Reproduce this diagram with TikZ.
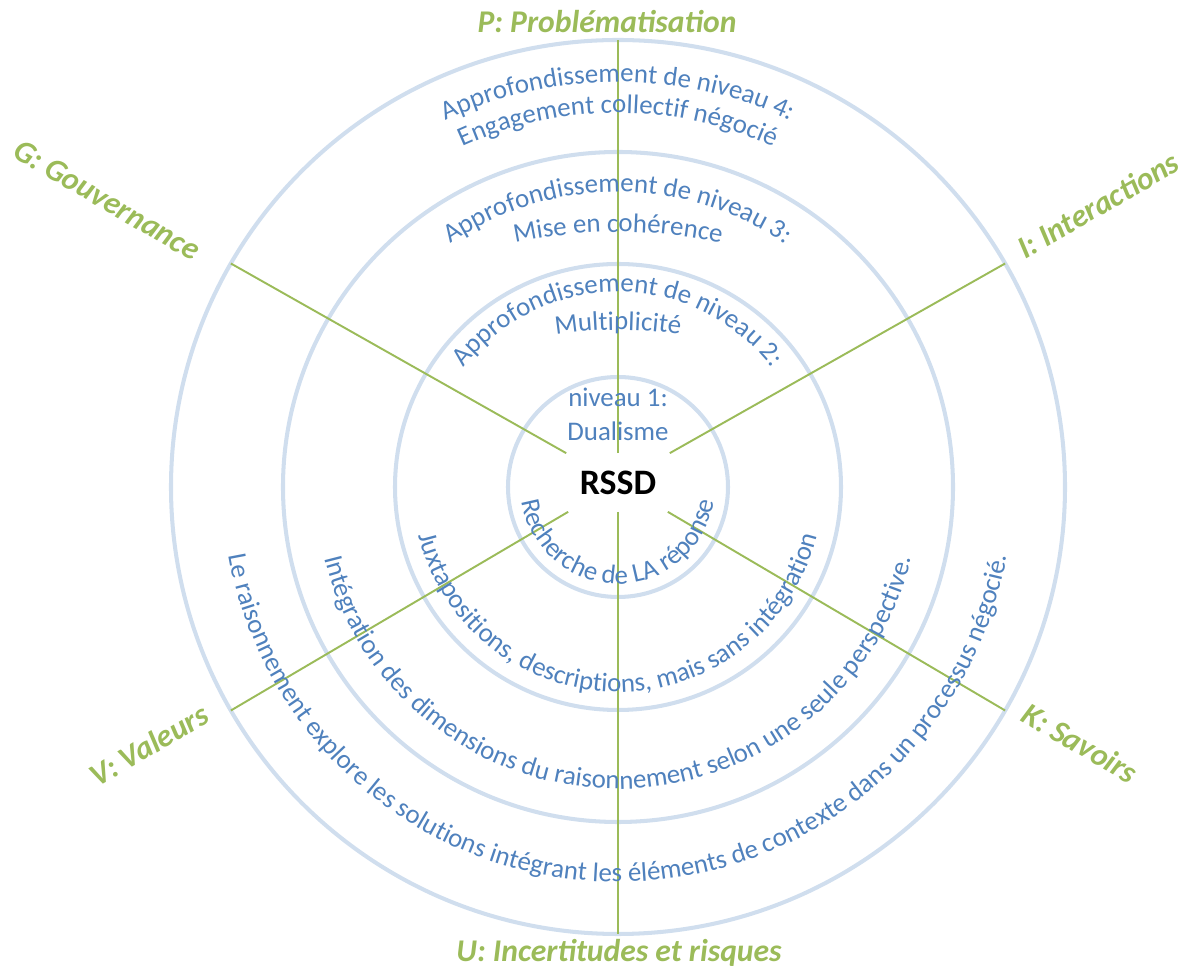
\documentclass[tikz,border=0pt]{standalone}
\usepackage{fontspec}
\setmainfont{Carlito}
\usepackage{xcolor}
\usepackage{tikz}
\usetikzlibrary{decorations.text}
\definecolor{ringline}{RGB}{208,222,238}
\definecolor{axisgreen}{RGB}{155,187,89}
\definecolor{leveltext}{RGB}{79,129,189}
\newcommand*{\levelfont}{\fontsize{15.3}{18}\selectfont}
\newcommand*{\dimfont}{\fontsize{18}{21}\selectfont\bfseries\itshape}
\tikzset{ring/.style = {draw=ringline, line width=2.3pt}}
\tikzset{axis/.style = {draw=axisgreen, line width=1.1pt}}
\tikzset{dimlabel/.style = {text=axisgreen, font=\dimfont, inner sep=0pt}}
\tikzset{lvl/.style = {text=leveltext, font=\levelfont, inner sep=0pt}}
\tikzset{arctext/.style = {decorate, decoration={text along path, text align=center, text color=leveltext, text={|\levelfont|#1}}}}

\begin{document}
\begin{tikzpicture}[x=0.02cm, y=0.02cm]
  \useasboundingbox (-618,-485) rectangle (571,487);

  % Rings
  \draw[ring] (0,0) circle[radius=110];
  \draw[ring] (0,0) circle[radius=223];
  \draw[ring] (0,0) circle[radius=335];
  \draw[ring] (0,0) circle[radius=447];

  % Centre
  \node[font=\fontsize{20.4}{24}\selectfont\bfseries, minimum width=2.6cm, minimum height=1.16cm, inner sep=0pt] (rssd) at (0,4.5) {RSSD};

  % Axes
  \coordinate (p_end) at (90:447);
  \coordinate (i_end) at (30:447);
  \coordinate (k_end) at (-30:447);
  \coordinate (u_end) at (-90:447);
  \coordinate (v_end) at (-150:447);
  \coordinate (g_end) at (150:447);

  \draw[axis] (rssd) -- (p_end);
  \draw[axis] (rssd) -- (i_end);
  \draw[axis] (rssd) -- (k_end);
  \draw[axis] (rssd) -- (u_end);
  \draw[axis] (rssd) -- (v_end);
  \draw[axis] (rssd) -- (g_end);

  % Dimensions
  \node[dimlabel, anchor=base] (probl) at (-11,454) {P: Problématisation};
  \node[dimlabel, rotate=-30] (gouv) at (-511,287) {G: Gouvernance};
  \node[dimlabel, rotate=30] (inter) at (480,282) {I: Interactions};
  \node[dimlabel, rotate=30] (valeurs) at (-469,-258) {V: Valeurs};
  \node[dimlabel, rotate=-30] (savoirs) at (462,-256) {K: Savoirs};
  \node[dimlabel, anchor=base] (incert) at (1,-474) {U: Incertitudes et risques};

  % Level 1
  \node[lvl, anchor=base] (niv1) at (0,80) {niveau 1:};
  \node[lvl, anchor=base] (dual) at (0,46) {Dualisme};
  \path[arctext={Recherche de LA réponse}] (170:97) arc[start angle=170, end angle=370, radius=97];

  % Level 2
  \path[arctext={Approfondissement de niveau 2:}] (170:195) arc[start angle=170, end angle=10, radius=195];
  \path[arctext={Multiplicité}, shift={(0,-243)}] (115:400) arc[start angle=115, end angle=65, radius=400];
  \path[arctext={Juxtapositions, descriptions, mais sans intégration}] (170:205) arc[start angle=170, end angle=370, radius=205];

  % Level 3
  \path[arctext={Approfondissement de niveau 3:}] (170:295) arc[start angle=170, end angle=10, radius=295];
  \path[arctext={Mise en cohérence}, shift={(0,-245)}] (120:500) arc[start angle=120, end angle=60, radius=500];
  \path[arctext={Intégration des dimensions du raisonnement selon une seule perspective.}] (170:302) arc[start angle=170, end angle=370, radius=302];

  % Level 4
  \path[arctext={Approfondissement de niveau 4:}] (170:405) arc[start angle=170, end angle=10, radius=405];
  \path[arctext={Engagement collectif négocié}] (170:374) arc[start angle=170, end angle=10, radius=374];
  \path[arctext={Le raisonnement explore les solutions intégrant les éléments de contexte dans un processus négocié.}] (170:395) arc[start angle=170, end angle=370, radius=395];

\end{tikzpicture}
\end{document}
